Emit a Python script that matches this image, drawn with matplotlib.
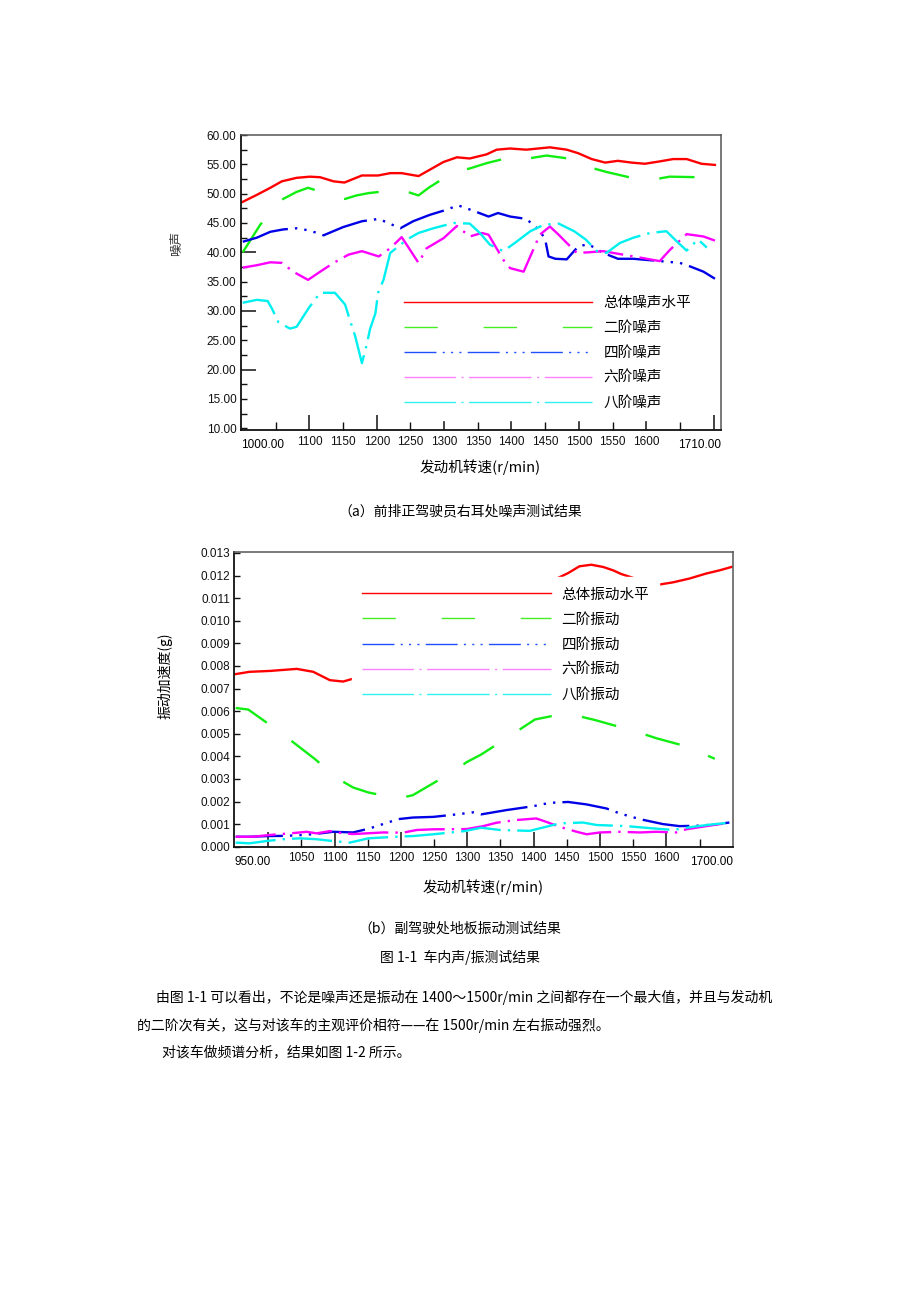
import matplotlib
matplotlib.use('Agg')
import matplotlib.pyplot as plt
from matplotlib import rcParams
from matplotlib.lines import Line2D
from matplotlib.ticker import FixedLocator, FixedFormatter

rcParams['font.family'] = ['Liberation Sans', 'Noto Sans CJK SC', 'DejaVu Sans']
CJK = ['Noto Sans CJK SC', 'DejaVu Sans']

# ---------------- (a) 噪声 ----------------
rpm_a_total = [1001, 1022, 1042, 1059, 1081, 1101, 1116, 1136, 1152, 1178, 1202, 1220, 1237, 1262, 1279, 1299,
               1319, 1338, 1363, 1378, 1398, 1422, 1457, 1482, 1499, 1519, 1539, 1558, 1578, 1598, 1620, 1640,
               1660, 1682, 1702]
noise_total = [48.6, 49.8, 51.0, 52.1, 52.7, 52.9, 52.8, 52.1, 51.9, 53.1, 53.1, 53.5, 53.5, 53.0, 54.1, 55.4,
               56.2, 56.0, 56.7, 57.5, 57.7, 57.5, 57.9, 57.5, 56.9, 55.9, 55.3, 55.6, 55.3, 55.1, 55.5, 55.9,
               55.9, 55.1, 54.9]

rpm_a_2 = [1001, 1027, 1055, 1061, 1081, 1098, 1141, 1153, 1170, 1188, 1235, 1262, 1277, 1314, 1338, 1363,
           1405, 1425, 1452, 1497, 1519, 1541, 1586, 1610, 1635, 1680, 1702]
noise_2 = [40.0, 44.7, 48.4, 49.1, 50.3, 51.0, 49.5, 49.1, 49.7, 50.1, 50.7, 49.7, 51.0, 53.7, 54.3, 55.2,
           56.4, 56.0, 56.5, 55.8, 54.4, 53.7, 52.5, 52.4, 52.9, 52.8, 52.1]

rpm_a_4 = [1001, 1022, 1042, 1061, 1081, 1101, 1121, 1150, 1178, 1203, 1235, 1254, 1279, 1299, 1321, 1343,
           1366, 1380, 1398, 1422, 1442, 1450, 1455, 1465, 1482, 1499, 1514, 1536, 1558, 1581, 1611, 1650,
           1665, 1685, 1702]
noise_4 = [41.8, 42.5, 43.5, 43.9, 44.1, 43.7, 42.9, 44.3, 45.3, 45.7, 44.1, 45.3, 46.4, 47.1, 48.0, 47.1,
           46.1, 46.7, 46.1, 45.7, 43.7, 42.2, 39.3, 38.9, 38.8, 41.0, 41.4, 39.9, 38.9, 38.9, 38.6, 38.2,
           37.6, 36.7, 35.5]

rpm_a_6 = [1001, 1022, 1042, 1059, 1076, 1098, 1116, 1136, 1158, 1178, 1203, 1220, 1237, 1262, 1274, 1299,
           1319, 1338, 1356, 1366, 1388, 1398, 1418, 1442, 1457, 1470, 1482, 1497, 1514, 1536, 1591, 1620,
           1635, 1660, 1685, 1702]
noise_6 = [37.4, 37.8, 38.3, 38.2, 36.7, 35.3, 36.7, 38.2, 39.6, 40.2, 39.3, 40.7, 42.6, 38.2, 40.7, 42.4,
           44.5, 42.7, 43.3, 43.0, 38.7, 37.3, 36.7, 43.0, 44.4, 43.0, 41.6, 39.9, 40.0, 40.2, 39.1, 38.5,
           40.4, 43.1, 42.7, 42.0]

rpm_a_8 = [1001, 1022, 1038, 1044, 1054, 1071, 1081, 1099, 1116, 1138, 1153, 1160, 1168, 1178, 1185, 1190,
           1198, 1202, 1210, 1220, 1245, 1262, 1284, 1314, 1338, 1353, 1368, 1388, 1405, 1428, 1448, 1470,
           1493, 1510, 1527, 1541, 1561, 1581, 1606, 1630, 1645, 1660, 1677, 1690]
noise_8 = [31.4, 31.9, 31.7, 30.5, 28.1, 27.0, 27.3, 30.5, 33.1, 33.1, 31.1, 28.5, 25.7, 21.1, 24.2, 26.9,
           29.6, 33.1, 35.3, 39.9, 42.2, 43.3, 44.1, 45.0, 44.9, 43.3, 41.3, 40.2, 41.6, 43.6, 44.7, 44.9,
           43.6, 42.2, 40.2, 39.9, 41.6, 42.5, 43.3, 43.6, 41.9, 40.3, 42.2, 40.8]

labels_a = ['总体噪声水平', '二阶噪声', '四阶噪声', '六阶噪声', '八阶噪声']

# ---------------- (b) 振动 ----------------
rpm_b_total = [951, 972, 1003, 1043, 1068, 1093, 1113, 1126, 1150, 1200, 1250, 1300, 1350, 1400, 1430, 1452,
               1469, 1487, 1505, 1520, 1532, 1560, 1589, 1610, 1635, 1660, 1680, 1698]
vib_total = [0.00764, 0.00774, 0.00778, 0.00787, 0.00774, 0.00737, 0.00731, 0.00742, 0.0077, 0.0084, 0.0092,
             0.0100, 0.0108, 0.0114, 0.0118, 0.01211, 0.01241, 0.01248, 0.01238, 0.01223, 0.01207, 0.0118,
             0.0116, 0.0117, 0.01187, 0.01209, 0.01223, 0.01238]

rpm_b_2 = [951, 970, 995, 1033, 1070, 1105, 1128, 1151, 1196, 1218, 1239, 1279, 1299, 1321, 1359, 1402, 1444,
           1469, 1492, 1537, 1560, 1585, 1629, 1650, 1673]
vib_2 = [0.00614, 0.00607, 0.00555, 0.00473, 0.00389, 0.00301, 0.00262, 0.00240, 0.00213, 0.00228, 0.00264,
         0.00333, 0.00374, 0.00408, 0.00480, 0.00563, 0.00588, 0.00577, 0.00561, 0.00524, 0.00504, 0.00480,
         0.00445, 0.00419, 0.00389]

rpm_b_4 = [951, 972, 1000, 1028, 1053, 1070, 1098, 1128, 1153, 1173, 1196, 1218, 1249, 1284, 1309, 1321, 1359,
           1399, 1424, 1452, 1480, 1510, 1530, 1560, 1595, 1620, 1650, 1675, 1695]
vib_4 = [0.00044, 0.00044, 0.00047, 0.00048, 0.00052, 0.00056, 0.00066, 0.00063, 0.00081, 0.00100, 0.00122,
         0.00129, 0.00132, 0.00143, 0.00152, 0.00143, 0.00162, 0.00179, 0.00194, 0.00198, 0.00187, 0.00169,
         0.00147, 0.00122, 0.00100, 0.00091, 0.00093, 0.00099, 0.00107]

rpm_b_6 = [951, 977, 1003, 1033, 1058, 1073, 1093, 1113, 1128, 1148, 1173, 1203, 1224, 1249, 1299, 1324, 1344,
           1374, 1404, 1419, 1439, 1465, 1480, 1500, 1530, 1560, 1585, 1615, 1630, 1660, 1695]
vib_6 = [0.00044, 0.00044, 0.00052, 0.00059, 0.00066, 0.00059, 0.00069, 0.00059, 0.00056, 0.00059, 0.00063,
         0.00062, 0.00074, 0.00077, 0.00078, 0.00091, 0.00106, 0.00118, 0.00125, 0.00110, 0.00088, 0.00066,
         0.00055, 0.00063, 0.00066, 0.00063, 0.00066, 0.00063, 0.00077, 0.00091, 0.00106]

rpm_b_8 = [951, 972, 1000, 1023, 1048, 1073, 1098, 1123, 1151, 1193, 1218, 1249, 1296, 1321, 1349, 1394, 1439,
           1474, 1495, 1540, 1580, 1610, 1640, 1670, 1695]
vib_8 = [0.00018, 0.00015, 0.00026, 0.00033, 0.00037, 0.00033, 0.00025, 0.00018, 0.00037, 0.00044, 0.00047,
         0.00055, 0.00069, 0.00084, 0.00074, 0.00070, 0.00103, 0.00107, 0.00096, 0.00091, 0.00081, 0.00074,
         0.00088, 0.00099, 0.00106]

labels_b = ['总体振动水平', '二阶振动', '四阶振动', '六阶振动', '八阶振动']

# 线型 (颜色, 线型)
colors = ['#ff0000', '#11ee11', '#0000e6', '#ff00ff', '#00f0f0']
styles = ['-', (0, (15, 13)), (0, (20, 3, 1, 3, 1, 3, 1, 3)), (0, (17, 3, 1, 3)), (0, (17, 3, 1, 3))]
leg_colors = ['#ff0000', '#44ee22', '#2050ff', '#ff80ff', '#30f0f0']
leg_styles = ['-', (0, (24, 33)), (0, (23, 4.5, 1.5, 4.5, 1.5, 4.5, 1.5, 4.5)), (8, (45, 4, 1.5, 4)),
              (8, (45, 4, 1.5, 4))]

fig = plt.figure(figsize=(9.2, 13.02), dpi=100)
fig.patch.set_facecolor('white')


def style_axes(ax):
    for s in ['left', 'bottom']:
        ax.spines[s].set_color('#111111')
        ax.spines[s].set_linewidth(1.3)
    for s in ['top', 'right']:
        ax.spines[s].set_color('#555555')
        ax.spines[s].set_linewidth(1.1)
    ax.tick_params(which='both', direction='in', top=False, right=False, labelsize=8.5, colors='#111111')


def add_legend(ax, labels, anchor):
    handles = [Line2D([], [], color=c, lw=1.0, linestyle=ls) for c, ls in zip(leg_colors, leg_styles)]
    leg = ax.legend(handles, labels, loc='upper left', bbox_to_anchor=anchor, frameon=True,
                    facecolor='white', edgecolor='white', framealpha=1, fancybox=False,
                    handlelength=12.9, handletextpad=0.75, labelspacing=0.76, borderpad=0.7,
                    prop={'family': CJK, 'size': 10.5})
    leg.set_zorder(5)
    return leg


# ---- 图 (a) ----
ax1 = fig.add_axes([0.2616, 0.6697, 0.5221, 0.2266])
series_a = [(rpm_a_total, noise_total), (rpm_a_2, noise_2), (rpm_a_4, noise_4), (rpm_a_6, noise_6), (rpm_a_8, noise_8)]
for (x, y), c, ls in zip(series_a, colors, styles):
    ax1.plot(x, y, color=c, lw=1.7, linestyle=ls, solid_joinstyle='round')
ax1.set_xlim(998, 1711)
ax1.set_ylim(9.7, 60.0)
style_axes(ax1)

# y 轴: 20/30/40 长刻度, 其余每 2.5 短刻度
y_major = [20, 30, 40]
y_minor = [v * 2.5 for v in range(4, 25) if v * 2.5 not in y_major]
ax1.yaxis.set_major_locator(FixedLocator(y_major))
ax1.yaxis.set_major_formatter(FixedFormatter(['%.2f' % v for v in y_major]))
ax1.yaxis.set_minor_locator(FixedLocator(y_minor))
ax1.yaxis.set_minor_formatter(FixedFormatter(['%.2f' % v if v % 5 == 0 else '' for v in y_minor]))
ax1.tick_params(axis='y', which='major', length=11, width=1.1, pad=3)
ax1.tick_params(axis='y', which='minor', length=4, width=1.0, labelsize=8.5, pad=3)

# x 轴
x_major = list(range(1100, 1701, 100))
x_minor = list(range(1050, 1651, 100))
ax1.xaxis.set_major_locator(FixedLocator(x_major))
ax1.xaxis.set_major_formatter(FixedFormatter([str(v) if v <= 1600 else '' for v in x_major]))
ax1.xaxis.set_minor_locator(FixedLocator(x_minor))
ax1.xaxis.set_minor_formatter(FixedFormatter([str(v) if 1100 < v < 1600 else '' for v in x_minor]))
ax1.tick_params(axis='x', which='major', length=11, width=1.1, pad=4)
ax1.tick_params(axis='x', which='minor', length=5.5, width=1.0, labelsize=8.5, pad=4)
ax1.text(0.0, -0.032, '1000.00', transform=ax1.transAxes, ha='left', va='top', fontsize=8.5)
ax1.text(1.0, -0.032, '1710.00', transform=ax1.transAxes, ha='right', va='top', fontsize=8.5)

add_legend(ax1, labels_a, (0.304, 0.515))

fig.text(0.192, 0.813, '噪声', rotation=90, ha='center', va='center', fontsize=9, family=CJK, color='#333333')
fig.text(0.522, 0.641, '发动机转速(r/min)', ha='center', va='center', fontsize=10.5, family=CJK)
fig.text(0.5, 0.607, '（a）前排正驾驶员右耳处噪声测试结果', ha='center', va='center', fontsize=10, family=CJK)

# ---- 图 (b) ----
ax2 = fig.add_axes([0.2547, 0.3497, 0.5417, 0.2261])
series_b = [(rpm_b_total, vib_total), (rpm_b_2, vib_2), (rpm_b_4, vib_4), (rpm_b_6, vib_6), (rpm_b_8, vib_8)]
for (x, y), c, ls in zip(series_b, colors, styles):
    ax2.plot(x, y, color=c, lw=1.7, linestyle=ls, solid_joinstyle='round')
ax2.set_xlim(949, 1700)
ax2.set_ylim(0.0, 0.01303)
style_axes(ax2)

yb = [i / 1000 for i in range(0, 14)]
ax2.yaxis.set_major_locator(FixedLocator(yb))
ax2.yaxis.set_major_formatter(FixedFormatter(['%.3f' % v for v in yb]))
ax2.tick_params(axis='y', which='major', length=4, width=1.0, pad=3)

xb_major = list(range(1000, 1601, 100))
xb_minor = list(range(1050, 1651, 100))
ax2.xaxis.set_major_locator(FixedLocator(xb_major))
ax2.xaxis.set_major_formatter(FixedFormatter([str(v) if v > 1000 else '' for v in xb_major]))
ax2.xaxis.set_minor_locator(FixedLocator(xb_minor))
ax2.xaxis.set_minor_formatter(FixedFormatter([str(v) if v < 1650 else '' for v in xb_minor]))
ax2.tick_params(axis='x', which='major', length=11, width=1.1, pad=4)
ax2.tick_params(axis='x', which='minor', length=5.5, width=1.0, labelsize=8.5, pad=4)
ax2.text(0.0, -0.032, '950.00', transform=ax2.transAxes, ha='left', va='top', fontsize=8.5)
ax2.text(1.0, -0.032, '1700.00', transform=ax2.transAxes, ha='right', va='top', fontsize=8.5)

add_legend(ax2, labels_b, (0.222, 0.94))

fig.text(0.179, 0.481, '振动加速度(g)', rotation=90, ha='center', va='center', fontsize=10, family=CJK)
fig.text(0.525, 0.3187, '发动机转速(r/min)', ha='center', va='center', fontsize=10.5, family=CJK)
fig.text(0.5, 0.287, '（b）副驾驶处地板振动测试结果', ha='center', va='center', fontsize=10, family=CJK)
fig.text(0.5, 0.2645, '图 1-1  车内声/振测试结果', ha='center', va='center', fontsize=10, family=CJK)

# 正文
fig.text(0.17, 0.2343, '由图 1-1 可以看出，不论是噪声还是振动在 1400～1500r/min 之间都存在一个最大值，并且与发动机',
         ha='left', va='center', fontsize=10, family=CJK)
fig.text(0.149, 0.2128, '的二阶次有关，这与对该车的主观评价相符——在 1500r/min 左右振动强烈。',
         ha='left', va='center', fontsize=10, family=CJK)
fig.text(0.176, 0.1920, '对该车做频谱分析，结果如图 1-2 所示。', ha='left', va='center', fontsize=10, family=CJK)

fig.savefig('out.png', dpi=100, facecolor='white')
